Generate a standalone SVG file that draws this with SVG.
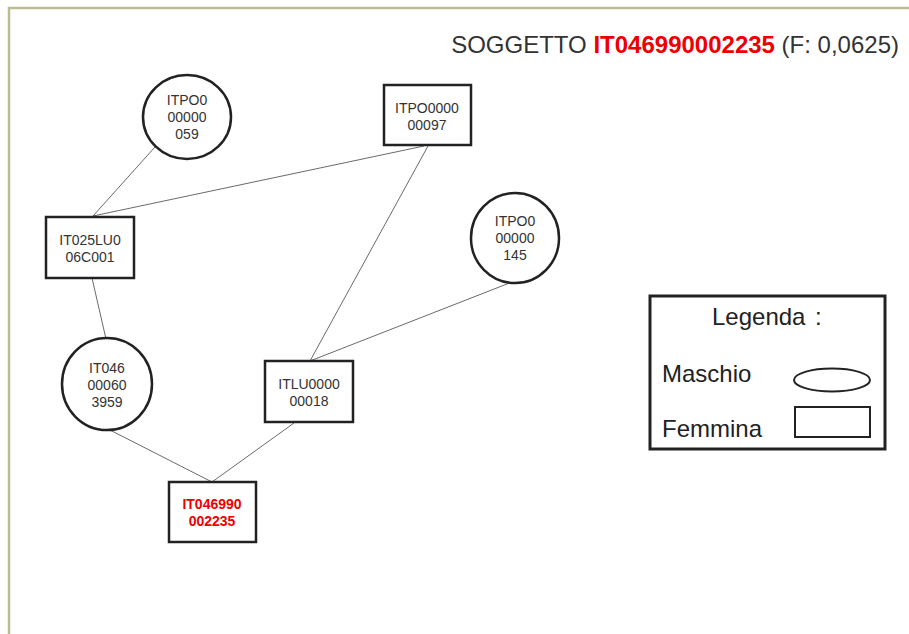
<svg xmlns="http://www.w3.org/2000/svg" width="909" height="634" viewBox="0 0 909 634">
<style>
.n{fill:#fff;stroke:#222;stroke-width:2.5}
.t{font-family:"Liberation Sans",Arial,sans-serif;font-size:14px;fill:#333;text-anchor:middle}
.r{fill:#e00;font-weight:bold}
.c{stroke:#444;stroke-width:0.8;fill:none}
.lg{font-family:"Liberation Sans",Arial,sans-serif;font-size:24px;fill:#222}
</style>
<rect x="0" y="0" width="909" height="634" fill="#fff"/>
<path d="M9,634 V8 H909" fill="none" stroke="#bcbc92" stroke-width="2.5"/>
<text x="899" y="53" text-anchor="end" font-family="'Liberation Sans',Arial,sans-serif" font-size="24" fill="#333">SOGGETTO <tspan fill="#e00" font-weight="bold">IT046990002235</tspan> (F: 0,0625)</text>
<g id="connectors">
<line class="c" x1="155" y1="147" x2="93" y2="216"/>
<line class="c" x1="93" y1="216" x2="424" y2="146"/>
<line class="c" x1="428" y1="146" x2="310" y2="361"/>
<line class="c" x1="512" y1="282" x2="310" y2="361"/>
<line class="c" x1="92" y1="278" x2="106" y2="339"/>
<line class="c" x1="110" y1="430" x2="212" y2="482"/>
<line class="c" x1="294" y1="423" x2="212" y2="482"/>
</g>
<g id="ITPO000000059">
<ellipse class="n" cx="187" cy="117" rx="44" ry="42"/>
<text class="t" x="187" y="105">ITPO0</text>
<text class="t" x="187" y="122">00000</text>
<text class="t" x="187" y="139">059</text>
</g>
<g id="ITPO000000097">
<rect class="n" x="384" y="85" width="87" height="60"/>
<text class="t" x="427" y="113">ITPO0000</text>
<text class="t" x="427" y="130">00097</text>
</g>
<g id="IT025LU006C001">
<rect class="n" x="46" y="217" width="88" height="61"/>
<text class="t" x="90" y="245">IT025LU0</text>
<text class="t" x="90" y="262">06C001</text>
</g>
<g id="ITPO000000145">
<ellipse class="n" cx="515" cy="238" rx="44" ry="45"/>
<text class="t" x="515" y="226">ITPO0</text>
<text class="t" x="515" y="243">00000</text>
<text class="t" x="515" y="260">145</text>
</g>
<g id="IT046000603959">
<ellipse class="n" cx="107" cy="384" rx="45" ry="46"/>
<text class="t" x="107" y="373">IT046</text>
<text class="t" x="107" y="390">00060</text>
<text class="t" x="107" y="407">3959</text>
</g>
<g id="ITLU000000018">
<rect class="n" x="265" y="361" width="88" height="61"/>
<text class="t" x="309" y="389">ITLU0000</text>
<text class="t" x="309" y="406">00018</text>
</g>
<g id="IT046990002235">
<rect class="n" x="169" y="482" width="87" height="60"/>
<text class="t r" x="212" y="509">IT046990</text>
<text class="t r" x="212" y="526">002235</text>
</g>
<g id="legenda">
<rect x="650" y="296" width="235" height="153" fill="#fff" stroke="#222" stroke-width="3"/>
<text class="lg" x="712" y="325">Legenda</text>
<text class="lg" x="815" y="325">:</text>
<text class="lg" x="662" y="382">Maschio</text>
<ellipse cx="832" cy="380" rx="38" ry="11.5" fill="#fff" stroke="#222" stroke-width="2"/>
<text class="lg" x="662" y="437">Femmina</text>
<rect x="795" y="407" width="75" height="30" fill="#fff" stroke="#222" stroke-width="2"/>
</g>
</svg>
